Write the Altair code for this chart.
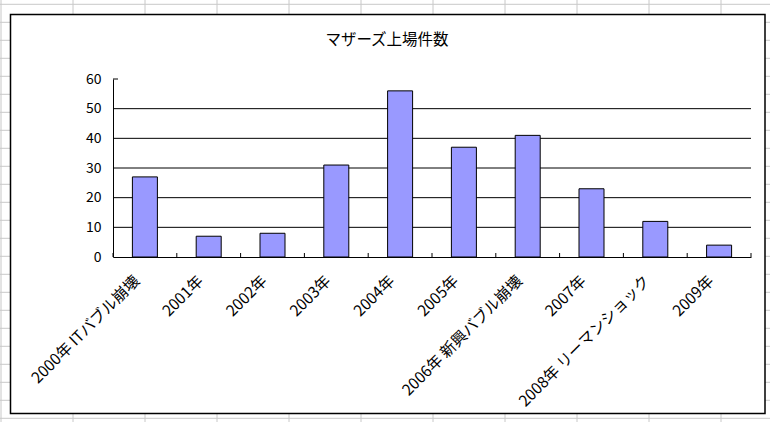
import altair as alt
import pandas as pd

categories = ["2000年 ITバブル崩壊", "2001年", "2002年", "2003年", "2004年",
              "2005年", "2006年 新興バブル崩壊", "2007年", "2008年 リーマンショック", "2009年"]
counts = [27, 7, 8, 31, 56, 37, 41, 23, 12, 4]
y_ticks = [0, 10, 20, 30, 40, 50, 60]
grid_values = [10, 20, 30, 40, 50]
title_text = "マザーズ上場件数"

df = pd.DataFrame({"year": categories, "count": counts})
grid_df = pd.DataFrame({"v": grid_values})

W, H = 638, 178
L, T = 113, 79
FONT = "Noto Sans CJK JP"

yscale = alt.Scale(domain=[0, 60], nice=False, zero=True)
xscale = alt.Scale(paddingInner=0, paddingOuter=0)
yaxis = alt.Axis(values=y_ticks, ticks=False, grid=False, labelPadding=12,
                 labelOverlap=False, domainColor="black", domainWidth=1, zindex=2,
                 labelFont=FONT, labelFontSize=14, labelColor="black")

bars = alt.Chart(df).mark_bar(size=25, color="#9999FF", stroke="black", strokeWidth=1).encode(
    x=alt.X("year:N", sort=categories, scale=xscale, title=None,
            axis=alt.Axis(labelAngle=-45, labelAlign="right", labelBaseline="middle",
                          labelPadding=21, labelOffset=-8, ticks=False,
                          domainColor="black", domainWidth=1,
                          labelFont=FONT, labelFontSize=15.5, labelColor="black",
                          labelLimit=400, labelOverlap=False, zindex=2)),
    y=alt.Y("count:Q", scale=yscale, title=None, axis=yaxis),
)

grid = alt.Chart(grid_df).mark_rule(color="black", strokeWidth=1).encode(
    y=alt.Y("v:Q", scale=yscale, title=None, axis=yaxis), x=alt.value(0), x2=alt.value(W)
)

xticks = alt.Chart(df).mark_rule(color="black", strokeWidth=1).encode(
    x=alt.X("year:N", sort=categories, bandPosition=0),
    y=alt.value(H), y2=alt.value(H - 4)
)
end_tick = alt.Chart(alt.Data(values=[{}])).mark_rule(color="black", strokeWidth=1).encode(
    x=alt.value(W), y=alt.value(H), y2=alt.value(H - 4)
)
top_tick = alt.Chart(alt.Data(values=[{}])).mark_rule(color="black", strokeWidth=1).encode(
    x=alt.value(0), x2=alt.value(5), y=alt.value(0)
)

main = alt.layer(grid, bars, xticks, end_tick, top_tick)

# spreadsheet background grid, chart frame and title
bg_v = alt.Chart(alt.sequence(0, 11, as_="k")).transform_calculate(
    px="1 + 72*datum.k - 113"
).mark_rule(color="#C8C8C8", strokeWidth=1).encode(
    x=alt.X("px:Q", scale=None, axis=None), y=alt.value(-T), y2=alt.value(422 - T)
)
bg_h = alt.Chart(alt.sequence(0, 24, as_="k")).transform_calculate(
    py="4.3 + 18*datum.k - 79"
).mark_rule(color="#C8C8C8", strokeWidth=1).encode(
    y=alt.Y("py:Q", scale=None, axis=None), x=alt.value(-L), x2=alt.value(770 - L)
)
frame = alt.Chart(alt.Data(values=[{}])).mark_rect(fill="white", stroke="black", strokeWidth=1.5).encode(
    x=alt.value(10.5 - L), x2=alt.value(765 - L), y=alt.value(14.5 - T), y2=alt.value(413.5 - T)
)
title = alt.Chart(alt.Data(values=[{}])).mark_text(
    font=FONT, fontSize=15.5, color="black", align="center", baseline="middle"
).encode(x=alt.value(387 - L), y=alt.value(40 - T), text=alt.value(title_text))

chart = alt.layer(bg_v, bg_h, frame, title, main).resolve_scale(
    x="independent", y="independent"
).properties(
    width=W, height=H,
    autosize="none",
    padding={"left": L, "top": T, "right": 770 - L - W, "bottom": 422 - T - H},
    background="white",
).configure_view(stroke=None)

chart.save("out.html", embed_options={"renderer": "svg", "actions": False})
